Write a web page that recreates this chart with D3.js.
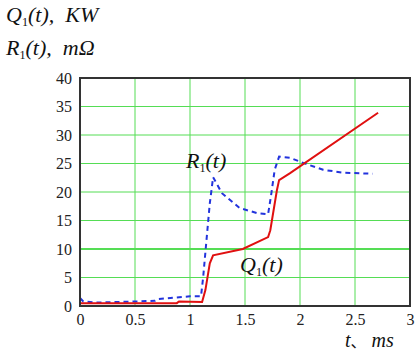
<!DOCTYPE html>
<html>
<head>
<meta charset="utf-8">
<script src="https://cdn.jsdelivr.net/npm/d3@7"></script>
</head>
<body style="margin:0;background:#fff">
<script>
// data
const qT = [0, 0.88, 0.9, 1.11, 1.14, 1.18, 1.21, 1.48, 1.71, 1.73, 1.79, 1.81, 1.91, 2.71];
const qV = [0.5, 0.5, 0.8, 0.7, 2.8, 7.5, 8.9, 10, 12.1, 13.3, 20.3, 22.1, 23.3, 33.9];
const rT = [0, 0.03, 0.15, 0.68, 0.7, 1.0, 1.1, 1.12, 1.15, 1.18, 1.21, 1.29, 1.45, 1.61, 1.71, 1.74, 1.77, 1.81, 1.91, 2.03, 2.21, 2.39, 2.66];
const rV = [1.4, 0.8, 0.6, 0.9, 1.2, 1.7, 1.7, 5.1, 11.6, 18, 22.6, 19.8, 17.2, 16.3, 16.1, 19.8, 23.9, 26.2, 26.0, 25.1, 23.9, 23.4, 23.2];
const xTicks = [0, 0.5, 1, 1.5, 2, 2.5, 3];
const yTicks = [0, 5, 10, 15, 20, 25, 30, 35, 40];

const margin = {top:78, right:6, bottom:46, left:80};
const width = 416 - margin.left - margin.right;
const height = 352 - margin.top - margin.bottom;

const x = d3.scaleLinear().domain([0,3]).range([0,width]);
const y = d3.scaleLinear().domain([0,40]).range([height,0]);

const root = d3.select('body').append('svg')
  .attr('width',416).attr('height',352);
const svg = root.append('g')
  .attr('transform',`translate(${margin.left},${margin.top})`);

// grid
svg.selectAll('.xg').data(xTicks.slice(1,-1)).join('line')
  .attr('x1',d=>x(d)).attr('x2',d=>x(d)).attr('y1',0).attr('y2',height)
  .attr('stroke','#55dd55').attr('stroke-width',1);
svg.selectAll('.yg').data(yTicks.slice(1,-1)).join('line')
  .attr('x1',0).attr('x2',width).attr('y1',d=>y(d)).attr('y2',d=>y(d))
  .attr('stroke','#55dd55').attr('stroke-width',d=>d==10?2:1);

// axes, labels only
svg.append('g').attr('transform',`translate(0,${height})`)
  .call(d3.axisBottom(x).tickValues(xTicks).tickFormat(d3.format('')).tickSize(0).tickPadding(8))
  .call(g=>g.select('.domain').remove())
  .selectAll('text').attr('fill','#222')
  .style('font-family',"'Times New Roman'").style('font-size','16px');
svg.append('g')
  .call(d3.axisLeft(y).tickValues(yTicks).tickSize(0).tickPadding(8))
  .call(g=>g.select('.domain').remove())
  .selectAll('text').attr('fill','#222')
  .style('font-family',"'Times New Roman'").style('font-size','16px');

// lines
const qData = qT.map((t,i)=>({t, v:qV[i]}));
const rData = rT.map((t,i)=>({t, v:rV[i]}));
const line = d3.line().x(d=>x(d.t)).y(d=>y(d.v));

svg.append('path').datum(rData)
  .attr('fill','none').attr('stroke','#2233dd').attr('stroke-width',2)
  .attr('stroke-dasharray','5,4').attr('d',line);
svg.append('path').datum(qData)
  .attr('fill','none').attr('stroke','#e01010').attr('stroke-width',2)
  .attr('d',line);

// frame
svg.append('rect').attr('width',width).attr('height',height)
  .attr('fill','none').attr('stroke','#333').attr('stroke-width',2);

// labels with subscript
function fnLabel(g, px, py, letter, rest, size){
  const t = g.append('text').attr('x',px).attr('y',py)
    .style('font-family',"'Times New Roman'").style('font-size',size+'px')
    .style('font-style','italic').attr('fill','#111');
  t.append('tspan').text(letter);
  t.append('tspan').text('1').style('font-style','normal')
    .style('font-size',(size*0.55)+'px').attr('dy',4);
  t.append('tspan').text(rest).attr('dy',-4);
  return t;
}
fnLabel(root, 6, 22, 'Q', '(t),\u00a0\u00a0KW', 22);
fnLabel(root, 6, 55, 'R', '(t),\u00a0\u00a0m\u03a9', 22);
fnLabel(root, 186, 168, 'R', '(t)', 22);
fnLabel(root, 240, 272, 'Q', '(t)', 22);

// x axis title: t、 ms (the comma drawn in its own text so it can use a CJK font)
const xTitle = root.append('text').attr('x',345).attr('y',347)
  .style('font-family',"'Times New Roman'").style('font-size','20px')
  .style('font-style','italic').attr('fill','#111');
xTitle.append('tspan').text('t');
xTitle.append('tspan').text('\u3001').style('font-style','normal')
  .style('font-family',"'Noto Sans CJK SC'").style('font-size','16px');
xTitle.append('tspan').text('\u00a0ms');
</script>
</body>
</html>
